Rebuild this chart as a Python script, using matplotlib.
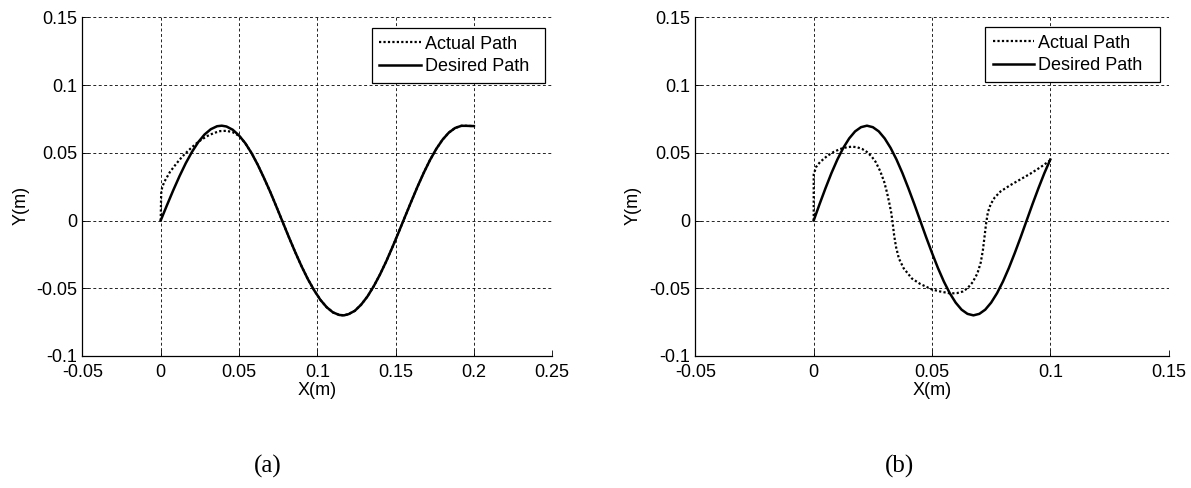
import matplotlib
matplotlib.use("Agg")
import matplotlib.pyplot as plt

plt.rcParams["font.family"] = ["Liberation Sans", "DejaVu Sans"]

# ---- panel (a): sinusoidal path over 0..0.2 m ----
a_desired_x = [0.000, 0.004, 0.008, 0.012, 0.016, 0.020, 0.024, 0.028, 0.032, 0.036,
               0.039, 0.042, 0.046, 0.050, 0.054, 0.058, 0.062, 0.066, 0.070, 0.074,
               0.078, 0.082, 0.086, 0.090, 0.094, 0.098, 0.102, 0.106, 0.110, 0.114,
               0.117, 0.120, 0.124, 0.128, 0.132, 0.136, 0.140, 0.144, 0.148, 0.152,
               0.156, 0.160, 0.164, 0.168, 0.172, 0.176, 0.180, 0.184, 0.188, 0.192,
               0.195, 0.200]
a_desired_y = [0.0000, 0.0113, 0.0223, 0.0327, 0.0423, 0.0507, 0.0579, 0.0635, 0.0674, 0.0696,
               0.0700, 0.0694, 0.0670, 0.0628, 0.0571, 0.0498, 0.0411, 0.0313, 0.0210, 0.0099,
               -0.0014, -0.0127, -0.0236, -0.0339, -0.0433, -0.0515, -0.0586, -0.0640, -0.0678, -0.0697,
               -0.0700, -0.0691, -0.0666, -0.0621, -0.0561, -0.0486, -0.0399, -0.0302, -0.0196, -0.0085,
               0.0028, 0.0140, 0.0250, 0.0353, 0.0447, 0.0529, 0.0597, 0.0649, 0.0683, 0.0699,
               0.0699, 0.0697]
a_actual_x = [0.000, 0.0003, 0.001, 0.003, 0.006, 0.010, 0.014, 0.018, 0.022, 0.026,
              0.030, 0.034, 0.038, 0.042, 0.046, 0.050, 0.054, 0.058, 0.062, 0.066,
              0.070, 0.074, 0.078, 0.082, 0.086, 0.090, 0.094, 0.098, 0.102, 0.106,
              0.110, 0.114, 0.117, 0.120, 0.124, 0.128, 0.132, 0.136, 0.140, 0.144,
              0.148, 0.152, 0.156, 0.160, 0.164, 0.168, 0.172, 0.176, 0.180, 0.184,
              0.188, 0.192, 0.195, 0.200]
a_actual_y = [0.0000, 0.0200, 0.0250, 0.0300, 0.0360, 0.0420, 0.0475, 0.0520, 0.0562, 0.0597,
              0.0625, 0.0646, 0.0660, 0.0662, 0.0652, 0.0625, 0.0571, 0.0498, 0.0411, 0.0313,
              0.0210, 0.0099, -0.0014, -0.0127, -0.0236, -0.0339, -0.0433, -0.0515, -0.0586, -0.0640,
              -0.0678, -0.0697, -0.0700, -0.0691, -0.0666, -0.0621, -0.0561, -0.0486, -0.0399, -0.0302,
              -0.0196, -0.0085, 0.0028, 0.0140, 0.0250, 0.0353, 0.0447, 0.0529, 0.0597, 0.0649,
              0.0683, 0.0699, 0.0699, 0.0697]

# ---- panel (b): compressed path over 0..0.1 m ----
b_desired_x = [0.0000, 0.0025, 0.0050, 0.0075, 0.0100, 0.0125, 0.0150, 0.0175, 0.0200, 0.0225,
               0.0250, 0.0275, 0.0300, 0.0325, 0.0350, 0.0375, 0.0400, 0.0425, 0.0450, 0.0475,
               0.0500, 0.0525, 0.0550, 0.0575, 0.0600, 0.0625, 0.0650, 0.0675, 0.0700, 0.0725,
               0.0750, 0.0775, 0.0800, 0.0825, 0.0850, 0.0875, 0.0900, 0.0925, 0.0950, 0.0975,
               0.1000]
b_desired_y = [0.0000, 0.0122, 0.0239, 0.0350, 0.0450, 0.0536, 0.0606, 0.0658, 0.0689, 0.0700,
               0.0689, 0.0658, 0.0606, 0.0536, 0.0450, 0.0350, 0.0239, 0.0122, 0.0000, -0.0122,
               -0.0239, -0.0350, -0.0450, -0.0536, -0.0606, -0.0658, -0.0689, -0.0700, -0.0689, -0.0658,
               -0.0606, -0.0536, -0.0450, -0.0350, -0.0239, -0.0122, 0.0000, 0.0122, 0.0239, 0.0350,
               0.0450]
b_actual_x = [0.0000, 0.0000, 0.0010, 0.0027, 0.0056, 0.0084, 0.0112, 0.0140, 0.0162, 0.0183,
              0.0205, 0.0225, 0.0245, 0.0262, 0.0281, 0.0298, 0.0310, 0.0320, 0.0328, 0.0334,
              0.0340, 0.0348, 0.0360, 0.0380, 0.0415, 0.0450, 0.0500, 0.0535, 0.0577, 0.0605,
              0.0630, 0.0650, 0.0672, 0.0692, 0.0706, 0.0715, 0.0722, 0.0728, 0.0736, 0.0748,
              0.0765, 0.0790, 0.0830, 0.0870, 0.0915, 0.0960, 0.1000]
b_actual_y = [0.0000, 0.0340, 0.0395, 0.0432, 0.0475, 0.0506, 0.0528, 0.0541, 0.0545, 0.0541,
              0.0528, 0.0506, 0.0472, 0.0432, 0.0365, 0.0285, 0.0205, 0.0125, 0.0055, -0.0022,
              -0.0110, -0.0195, -0.0280, -0.0352, -0.0428, -0.0468, -0.0509, -0.0524, -0.0538, -0.0536,
              -0.0524, -0.0500, -0.0455, -0.0390, -0.0310, -0.0220, -0.0120, -0.0030, 0.0060, 0.0120,
              0.0170, 0.0215, 0.0260, 0.0300, 0.0345, 0.0395, 0.0445]

# axis ticks and labels
a_xticks = [-0.05, 0.0, 0.05, 0.10, 0.15, 0.20, 0.25]
a_xticklabels = ["-0.05", "0", "0.05", "0.1", "0.15", "0.2", "0.25"]
b_xticks = [-0.05, 0.0, 0.05, 0.10, 0.15]
b_xticklabels = ["-0.05", "0", "0.05", "0.1", "0.15"]
yticks = [-0.10, -0.05, 0.0, 0.05, 0.10, 0.15]
yticklabels = ["-0.1", "-0.05", "0", "0.05", "0.1", "0.15"]

series_labels = ["Actual Path", "Desired Path"]
panel_tags = ["(a)", "(b)"]

W, H = 1191, 488
fig = plt.figure(figsize=(W / 100, H / 100), dpi=100)

FS = 13


def make_axes(left_px, right_px, top_px=17.3, bottom_px=356.0):
    return fig.add_axes([left_px / W, (H - bottom_px) / H,
                         (right_px - left_px) / W, (bottom_px - top_px) / H])


def style_axes(ax, xticks, xlabels, xlim, legend_box):
    ax.set_xlim(*xlim)
    ax.set_ylim(-0.10, 0.15)
    ax.set_xticks(xticks)
    ax.set_xticklabels(xlabels, fontsize=FS)
    ax.set_yticks(yticks)
    ax.set_yticklabels(yticklabels, fontsize=FS)
    ax.tick_params(direction="in", length=4, width=0.6, colors="black")
    ax.tick_params(axis="x", pad=6.0)
    ax.tick_params(axis="y", pad=3.5)
    ax.grid(True, color="black", linewidth=0.6, linestyle=(0, (3.5, 3.0)))
    for side in ("top", "right"):
        ax.spines[side].set_visible(False)
    for side in ("left", "bottom"):
        ax.spines[side].set_linewidth(0.9)
        ax.spines[side].set_color("black")
    ax.set_xlabel("X(m)", fontsize=FS)
    ax.set_ylabel("Y(m)", fontsize=FS)
    ax.xaxis.set_label_coords(0.5, -0.076)
    ax.yaxis.set_label_coords(-0.113, 0.446)
    leg = ax.legend(loc="upper left", bbox_to_anchor=legend_box, mode="expand",
                    borderaxespad=0.0, fontsize=FS, fancybox=False, framealpha=1,
                    edgecolor="black", handlelength=2.3, handletextpad=0.2,
                    labelspacing=0.3, borderpad=0.42)
    leg.get_frame().set_linewidth(0.9)


dotted = (0, (1.0, 1.0))

ax1 = make_axes(82.4, 552.2)
ax1.plot(a_actual_x, a_actual_y, color="black", linewidth=1.6, linestyle=dotted,
         label=series_labels[0])
ax1.plot(a_desired_x, a_desired_y, color="black", linewidth=1.8, linestyle="-",
         label=series_labels[1])
style_axes(ax1, a_xticks, a_xticklabels, (-0.05, 0.25), (0.616, 0.5, 0.368, 0.468))

ax2 = make_axes(695.4, 1168.6)
ax2.plot(b_actual_x, b_actual_y, color="black", linewidth=1.6, linestyle=dotted,
         label=series_labels[0])
ax2.plot(b_desired_x, b_desired_y, color="black", linewidth=1.8, linestyle="-",
         label=series_labels[1])
style_axes(ax2, b_xticks, b_xticklabels, (-0.05, 0.15), (0.612, 0.5, 0.370, 0.471))

fig.text(268 / W, 1 - 466 / H, panel_tags[0], fontsize=18, family="Liberation Serif",
         ha="center", va="center")
fig.text(900 / W, 1 - 466 / H, panel_tags[1], fontsize=18, family="Liberation Serif",
         ha="center", va="center")

fig.savefig("out.png", dpi=100)
